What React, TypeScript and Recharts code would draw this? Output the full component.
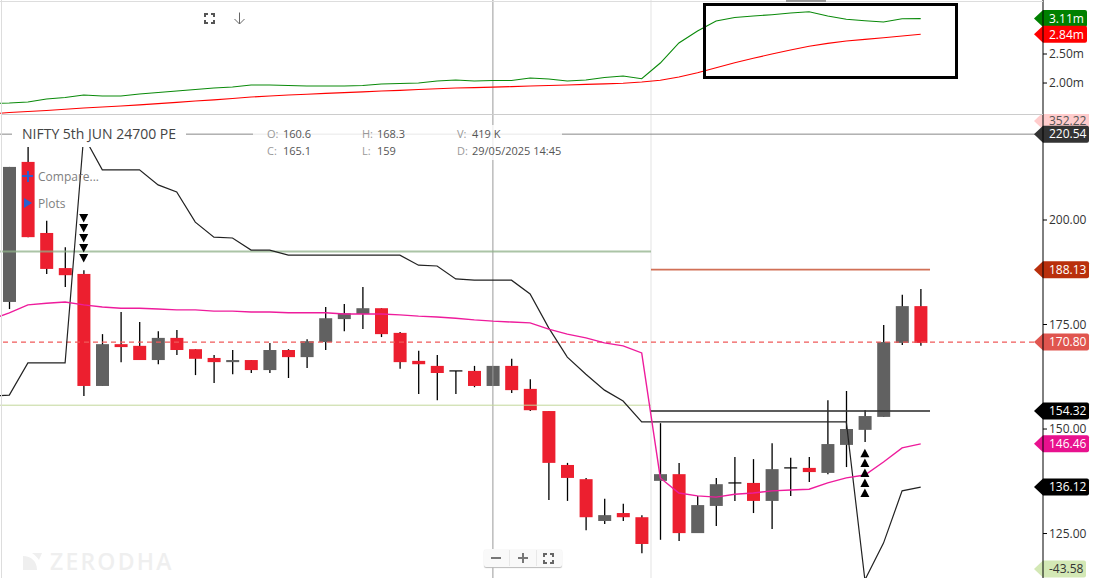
import { Bar, ComposedChart, Line, ReferenceDot, ReferenceLine, XAxis, YAxis } from "recharts";

const FONT = "'Open Sans', sans-serif";
const CHART_W = 1104;
const CROSSHAIR_SLOT = 26;
const SESSION_BREAK = 34.5;
const LEVEL_END = 49.5;

// one value per slot, the first one sits just off the left edge (slot -1)
const oiGreen = [
	1.65, 1.655, 1.672, 1.724, 1.75, 1.793, 1.776, 1.776, 1.81, 1.836, 1.862, 1.888, 1.914,
	1.931, 1.966, 1.966, 1.957, 1.948, 1.948, 1.948, 1.957, 1.983, 1.991, 2.0, 2.034, 2.052,
	2.034, 2.043, 2.043, 2.086, 2.069, 2.034, 2.052, 2.095, 2.121, 2.074, 2.345, 2.69, 2.897,
	3.069, 3.129, 3.155, 3.178, 3.207, 3.229, 3.155, 3.098, 3.074, 3.052, 3.109, 3.11,
];
const oiRed = [
	1.466, 1.491, 1.509, 1.526, 1.548, 1.569, 1.586, 1.604, 1.624, 1.645, 1.667, 1.69, 1.71,
	1.733, 1.759, 1.776, 1.793, 1.807, 1.821, 1.835, 1.848, 1.862, 1.874, 1.888, 1.902, 1.914,
	1.921, 1.929, 1.938, 1.948, 1.957, 1.966, 1.976, 1.986, 1.997, 2.017, 2.047, 2.103, 2.178,
	2.264, 2.35, 2.426, 2.5, 2.569, 2.633, 2.684, 2.724, 2.753, 2.781, 2.81, 2.84,
];
const trailLine = [
	157.9, 158.1, 165.8, 165.8, 165.8, 220.1, 212.0, 212.0, 212.0, 208.4, 206.7, 199.5, 195.9,
	195.7, 192.8, 192.8, 191.6, 191.6, 191.6, 191.6, 191.6, 191.6, 191.6, 189.2, 189.0, 185.9,
	185.6, 185.6, 185.6, 182.3, 174.2, 167.2, 163.1, 159.3, 156.7, 151.7, 151.7, 151.7, 151.7,
	151.7, 151.7, 151.7, 151.7, 151.7, 151.7, 151.7, 151.7, 113.9, 122.7, 135.2, 136.12,
];
const averageLine = [
	176.1, 177.8, 179.7, 180.1, 180.4, 179.7, 179.2, 178.9, 178.9, 178.7, 178.5, 178.5, 178.2,
	178.2, 178.0, 178.0, 177.8, 177.8, 177.8, 177.5, 177.5, 177.5, 177.3, 177.0, 176.8, 176.5,
	176.1, 175.8, 175.6, 175.4, 173.9, 172.7, 171.8, 170.6, 169.9, 168.2, 138.3, 134.7, 134.0,
	133.7, 134.4, 134.7, 135.2, 135.4, 135.6, 137.1, 138.3, 139.0, 142.1, 145.5, 146.46,
];

// candles start at slot 0
const opens = [
	180.4, 213.9, 196.9, 188.5, 187.1, 160.3, 170.3, 169.9, 166.5, 171.8, 169.1, 167.0, 166.0,
	166.5, 164.1, 168.9, 167.2, 170.8, 176.3, 177.5, 178.9, 173.0, 166.3, 165.1, 163.9, 163.9,
	160.3, 165.1, 159.6, 154.3, 141.4, 138.0, 128.0, 129.9, 128.9, 137.6, 139.2, 125.1, 131.6,
	137.1, 137.1, 132.8, 140.7, 140.7, 139.5, 146.2, 149.8, 152.9, 170.6, 179.4,
];
const closes = [
	212.7, 195.9, 188.3, 186.8, 160.3, 170.3, 169.6, 166.5, 171.8, 168.9, 166.8, 166.0, 166.5,
	164.1, 168.9, 167.2, 171.0, 176.5, 177.7, 178.9, 172.7, 166.0, 165.5, 163.4, 163.9, 160.3,
	165.1, 159.3, 154.5, 141.9, 138.3, 128.9, 129.4, 128.9, 122.5, 139.2, 125.1, 131.8, 136.8,
	137.1, 132.8, 140.4, 140.7, 139.7, 146.4, 150.0, 153.1, 170.8, 179.4, 170.6,
];
const highs = [
	212.7, 222.2, 199.8, 193.5, 188.0, 172.7, 178.0, 175.6, 173.4, 173.7, 169.1, 167.7, 168.9,
	166.5, 170.6, 169.1, 171.5, 179.2, 179.9, 184.0, 178.9, 173.2, 168.7, 167.7, 163.9, 165.1,
	165.1, 166.8, 161.9, 154.3, 141.9, 138.3, 133.3, 132.1, 129.4, 151.4, 141.9, 134.0, 138.3,
	143.3, 142.8, 146.6, 143.1, 143.3, 156.9, 159.1, 154.5, 174.9, 182.1, 183.5,
];
const lows = [
	178.7, 195.9, 187.1, 184.0, 157.9, 160.3, 166.0, 166.5, 165.5, 167.7, 162.9, 161.0, 163.1,
	163.4, 163.4, 162.2, 164.6, 168.9, 173.4, 173.9, 172.0, 164.4, 158.4, 156.9, 158.4, 160.0,
	160.3, 158.6, 154.3, 133.0, 132.8, 125.8, 127.3, 128.0, 120.3, 123.5, 123.2, 125.1, 126.8,
	132.8, 129.9, 126.1, 134.0, 137.3, 139.2, 140.9, 146.9, 152.9, 170.1, 169.9,
];

const sellMarks = [200.5, 198.1, 195.7, 193.3, 190.9];
const buyMarks = [144.2, 141.9, 139.5, 137.1, 134.7];
const sellSlot = 4;
const buySlot = 46;

const oiTicks = [2.0, 2.5];
const priceTicks = [125, 150, 175, 200];

const slots = Array.from({ length: 57 }, (_, k) => k - 1);
const table = slots.map((slot, k) => ({
	slot,
	green: oiGreen[k] ?? null,
	red: oiRed[k] ?? null,
	trail: trailLine[k] ?? null,
	average: averageLine[k] ?? null,
	open: opens[slot] ?? null,
	close: closes[slot] ?? null,
	high: highs[slot] ?? null,
	low: lows[slot] ?? null,
}));

const Candle = (props: any) => {
	const { x, y, width, height, payload } = props;
	if (payload.high == null) return null;
	const k = height / (payload.high - payload.low);
	const mid = x + width / 2;
	const top = y + (payload.high - Math.max(payload.open, payload.close)) * k;
	const bodyH = Math.abs(payload.open - payload.close) * k;
	const doji = payload.open === payload.close;
	const fill = payload.close < payload.open ? "#ec1f2f" : "#616161";
	return (
		<g>
			<line x1={mid} x2={mid} y1={y} y2={y + height} stroke="#000" strokeWidth={1.3} />
			{doji ? (
				<line x1={x} x2={x + width} y1={top} y2={top} stroke="#000" strokeWidth={1.2} />
			) : (
				<rect x={x} y={top} width={width} height={bodyH} fill={fill} />
			)}
		</g>
	);
};

const Flag = ({ viewBox, text, bg, color = "#fff", w = 46 }: any) => {
	const x = viewBox.x + viewBox.width;
	const y = viewBox.y;
	return (
		<g>
			<path
				d={`M${x - 9} ${y} L${x} ${y - 8.5} H${x + w - 2} q2 0 2 2 V${y + 6.5} q0 2 -2 2 H${x} Z`}
				fill={bg}
			/>
			<text x={x + 6} y={y + 4.3} fontSize={12} fontFamily={FONT} fill={color}>
				{text}
			</text>
		</g>
	);
};

const Triangle = ({ cx, cy, down }: any) => (
	<path
		d={
			down
				? `M${cx - 4.5} ${cy - 4} H${cx + 4.5} L${cx} ${cy + 4.5} Z`
				: `M${cx - 4.5} ${cy + 4} H${cx + 4.5} L${cx} ${cy - 4.5} Z`
		}
		fill="#000"
	/>
);

const flagLine = (value: number, text: string, bg: string, color?: string, w?: number) => (
	<ReferenceLine
		key={text}
		y={value}
		xAxisId="c"
		stroke="none"
		label={(p: any) => <Flag viewBox={p.viewBox} text={text} bg={bg} color={color} w={w} />}
	/>
);

const sharedAxes = [
	<XAxis key="c" xAxisId="c" dataKey="slot" scale="band" hide padding={{ left: 0, right: 1.4 }} />,
	<XAxis
		key="t"
		xAxisId="t"
		type="number"
		dataKey="slot"
		domain={[-1.5, 55.575]}
		allowDataOverflow
		hide
	/>,
];

const Txt = ({ x, y, size = 11, color = "#555", children, weight = 400, spacing = 0 }: any) => (
	<div
		style={{
			position: "absolute",
			left: x,
			top: y,
			transform: "translateY(-50%)",
			fontSize: size,
			color,
			fontFamily: FONT,
			fontWeight: weight,
			letterSpacing: spacing,
			whiteSpace: "nowrap",
			lineHeight: 1,
		}}
	>
		{children}
	</div>
);

const Box = ({ x, y, w, h, bg }: any) => (
	<div style={{ position: "absolute", left: x, top: y, width: w, height: h, background: bg }} />
);

const Expand = ({ x, y, size = 11, color = "#555" }: any) => (
	<svg style={{ position: "absolute", left: x, top: y }} width={size} height={size}>
		<path
			d={`M1 4 V1 H4 M${size - 4} 1 H${size - 1} V4 M${size - 1} ${size - 4} V${size - 1} H${size - 4} M4 ${size - 1} H1 V${size - 4}`}
			fill="none"
			stroke={color}
			strokeWidth={2}
		/>
	</svg>
);

export default function App() {
	return (
		<div
			style={{
				position: "absolute",
				left: 0,
				top: 0,
				width: CHART_W,
				height: 578,
				overflow: "hidden",
				background: "#fff",
			}}
		>
			<div style={{ position: "absolute", left: 0, top: 0 }}>
				<ComposedChart
					width={CHART_W}
					height={114}
					data={table}
					margin={{ top: 0, right: 0, bottom: 0, left: -18.6 }}
				>
					{sharedAxes}
					<YAxis
						orientation="right"
						width={61}
						domain={[1.466, 3.431]}
						allowDataOverflow
						ticks={oiTicks}
						tickSize={4}
						tickMargin={2}
						tickFormatter={(v: number) => `${v.toFixed(2)}m`}
						tick={{ fontSize: 12, fill: "#333", fontFamily: FONT, textAnchor: "start" }}
						stroke="#000"
					/>
					<ReferenceLine xAxisId="t" x={SESSION_BREAK} stroke="#e3e3e3" />
					<ReferenceLine xAxisId="c" x={CROSSHAIR_SLOT} stroke="#999" />
					<Line
						xAxisId="c"
						dataKey="green"
						stroke="#0a8a0a"
						strokeWidth={1.1}
						dot={false}
						activeDot={false}
						isAnimationActive={false}
					/>
					<Line
						xAxisId="c"
						dataKey="red"
						stroke="#ff0000"
						strokeWidth={1.1}
						dot={false}
						activeDot={false}
						isAnimationActive={false}
					/>
					{flagLine(3.11, "3.11m", "#008000", "#fff", 44)}
					{flagLine(2.84, "2.84m", "#ff0000", "#fff", 44)}
				</ComposedChart>
			</div>
			<div style={{ position: "absolute", left: 0, top: 114 }}>
				<ComposedChart
					width={CHART_W}
					height={464}
					data={table}
					margin={{ top: 0, right: 0, bottom: 0, left: -18.6 }}
				>
					{sharedAxes}
					<YAxis
						orientation="right"
						width={61}
						domain={[114.36, 225.36]}
						allowDataOverflow
						ticks={priceTicks}
						tickSize={4}
						tickMargin={2}
						tickFormatter={(v: number) => v.toFixed(2)}
						tick={{ fontSize: 12, fill: "#333", fontFamily: FONT, textAnchor: "start" }}
						stroke="#000"
					/>
					<ReferenceLine xAxisId="t" x={SESSION_BREAK} stroke="#e3e3e3" />
					<ReferenceLine xAxisId="c" x={CROSSHAIR_SLOT} stroke="#999" />
					<Bar
						xAxisId="c"
						dataKey={(row: any) => (row.high == null ? null : [row.low, row.high])}
						barSize={13}
						shape={Candle}
						isAnimationActive={false}
					/>
					<ReferenceLine
						xAxisId="t"
						segment={[
							{ x: -1.5, y: 192.45 },
							{ x: SESSION_BREAK, y: 192.45 },
						]}
						stroke="#8fb088"
						strokeOpacity={0.75}
						strokeWidth={2}
					/>
					<ReferenceLine
						xAxisId="t"
						segment={[
							{ x: -1.5, y: 155.7 },
							{ x: SESSION_BREAK, y: 155.7 },
						]}
						stroke="#c3d79a"
						strokeWidth={1}
					/>
					<ReferenceLine
						xAxisId="t"
						segment={[
							{ x: SESSION_BREAK, y: 188.13 },
							{ x: LEVEL_END, y: 188.13 },
						]}
						stroke="#c9573a"
						strokeOpacity={0.85}
						strokeWidth={1.8}
					/>
					<ReferenceLine
						xAxisId="t"
						segment={[
							{ x: SESSION_BREAK, y: 154.32 },
							{ x: LEVEL_END, y: 154.32 },
						]}
						stroke="#333"
						strokeOpacity={0.8}
						strokeWidth={2}
					/>
					<ReferenceLine xAxisId="c" y={220.54} stroke="#888" />
					<ReferenceLine xAxisId="c" y={170.8} stroke="#f05a5a" strokeWidth={1.2} strokeDasharray="5 4" />
					<Line
						xAxisId="c"
						dataKey="trail"
						stroke="#222"
						strokeWidth={1.2}
						dot={false}
						activeDot={false}
						isAnimationActive={false}
					/>
					<Line
						xAxisId="c"
						dataKey="average"
						stroke="#ee1c9c"
						strokeWidth={1.4}
						dot={false}
						activeDot={false}
						isAnimationActive={false}
					/>
					{sellMarks.map((v) => (
						<ReferenceDot
							key={v}
							xAxisId="c"
							x={sellSlot}
							y={v}
							shape={(p: any) => <Triangle cx={p.cx} cy={p.cy} down />}
						/>
					))}
					{buyMarks.map((v) => (
						<ReferenceDot
							key={v}
							xAxisId="c"
							x={buySlot}
							y={v}
							shape={(p: any) => <Triangle cx={p.cx} cy={p.cy} />}
						/>
					))}
					{flagLine(223.7, "352.22", "#ffcccc", "#555")}
					{flagLine(220.54, "220.54", "#333333")}
					{flagLine(188.13, "188.13", "#b92f0c")}
					{flagLine(170.8, "170.80", "#e0554f")}
					{flagLine(154.32, "154.32", "#000000")}
					{flagLine(146.46, "146.46", "#e8118e")}
					{flagLine(136.12, "136.12", "#000000")}
					{flagLine(116.5, "-43.58", "#d3e8b5", "#333", 43)}
				</ComposedChart>
			</div>

			{/* pane frame */}
			<Box x={0} y={1} w={1043} h={1} bg="#ddd" />
			<Box x={1} y={0} w={1} h={578} bg="#ddd" />
			<Box x={2} y={114} w={1041} h={1} bg="#ccc" />
			<Box x={786} y={0} w={40} h={2} bg="#999" />
			<div
				style={{
					position: "absolute",
					left: 703,
					top: 2.7,
					width: 249,
					height: 70.7,
					border: "3.7px solid #000",
				}}
			/>

			{/* header and toolbar */}
			<Expand x={204} y={13} />
			<svg style={{ position: "absolute", left: 233, top: 12 }} width={13} height={13}>
				<path d="M6.5 0.5 V12 M1.5 7 L6.5 12 L11.5 7" fill="none" stroke="#666" strokeWidth={1} />
			</svg>
			<Box x={12} y={125} w={174} h={22} bg="#fff" />
			<Box x={253} y={125} w={309} h={35} bg="rgba(255,255,255,0.8)" />
			<Txt x={22} y={134} size={14} color="#444">
				NIFTY 5th JUN 24700 PE
			</Txt>
			<Txt x={267} y={133} color="#999">O:</Txt>
			<Txt x={283} y={133}>160.6</Txt>
			<Txt x={362} y={133} color="#999">H:</Txt>
			<Txt x={377} y={133}>168.3</Txt>
			<Txt x={457} y={133} color="#999">V:</Txt>
			<Txt x={472} y={133}>419 K</Txt>
			<Txt x={267} y={150} color="#999">C:</Txt>
			<Txt x={283} y={150}>165.1</Txt>
			<Txt x={362} y={150} color="#999">L:</Txt>
			<Txt x={377} y={150}>159</Txt>
			<Txt x={457} y={150} color="#999">D:</Txt>
			<Txt x={472} y={150}>29/05/2025 14:45</Txt>
			<Box x={22} y={175} w={11} h={2} bg="#2a5fcf" />
			<Box x={26.5} y={170.5} w={2} h={11} bg="#2a5fcf" />
			<Txt x={38} y={177} size={12} color="#808080">Compare...</Txt>
			<svg style={{ position: "absolute", left: 23, top: 198 }} width={10} height={10}>
				<path d="M1 0 L9 5 L1 10 Z" fill="#2a5fcf" />
			</svg>
			<Txt x={38} y={204} size={12} color="#808080">Plots</Txt>

			{/* watermark */}
			<svg style={{ position: "absolute", left: 23, top: 553 }} width={19} height={17}>
				<path d="M0 3 C8 3 14 8 14 17 H0 Z M9 0 H19 L16 7 C14 4 12 2 9 0 Z" fill="#efefef" />
			</svg>
			<Txt x={50} y={561} size={23} color="#efefef" weight={600} spacing={2.2}>ZERODHA</Txt>

			{/* zoom control */}
			<div
				style={{
					position: "absolute",
					left: 484,
					top: 549,
					width: 78,
					height: 18,
					background: "#f9f9f9",
					borderRadius: 2,
					boxShadow: "0 1px 1px #bbb",
				}}
			/>
			<Box x={509} y={550} w={1} h={16} bg="#e8e8e8" />
			<Box x={536} y={550} w={1} h={16} bg="#e8e8e8" />
			<Box x={491} y={557} w={10} h={2} bg="#777" />
			<Box x={518} y={557} w={10} h={2} bg="#777" />
			<Box x={522} y={553} w={2} h={10} bg="#777" />
			<Expand x={543} y={553} size={11} color="#666" />
		</div>
	);
}
